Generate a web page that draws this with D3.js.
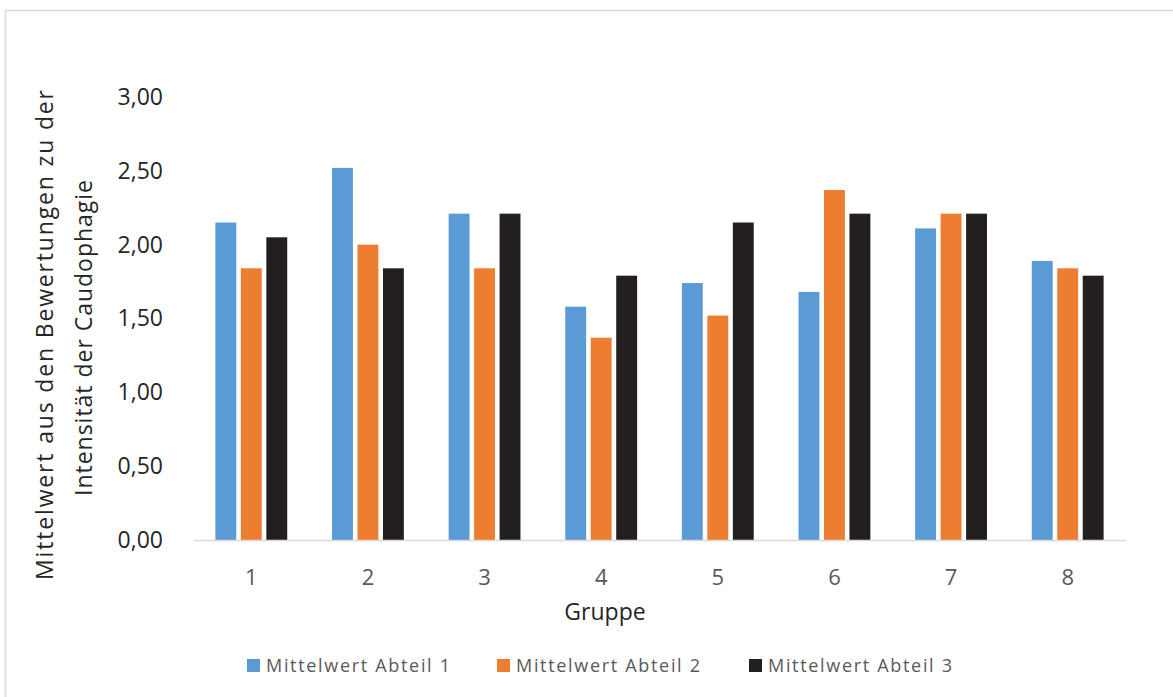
<!DOCTYPE html>
<html>
<head>
    <meta charset="utf-8">
    <title>Caudophagie</title>
    <script src="https://cdn.jsdelivr.net/npm/d3@7"></script>
    <style>
        body { margin: 0; background: #fff; }
        text { font-family: "Open Sans", Lato, sans-serif; }
    </style>
</head>
<body>
<script>
    // data
    var groups = ["1", "2", "3", "4", "5", "6", "7", "8"];
    var seriesNames = ["Mittelwert Abteil 1", "Mittelwert Abteil 2", "Mittelwert Abteil 3"];
    var abteil1 = [2.15, 2.52, 2.21, 1.58, 1.74, 1.68, 2.11, 1.89];
    var abteil2 = [1.84, 2.00, 1.84, 1.37, 1.52, 2.37, 2.21, 1.84];
    var abteil3 = [2.05, 1.84, 2.21, 1.79, 2.15, 2.21, 2.21, 1.79];
    var yTicks = [0, 0.5, 1, 1.5, 2, 2.5, 3];
    var colors = ["#5b9bd5", "#ed7d31", "#231f20"];

    var allSeries = [abteil1, abteil2, abteil3];

    var width = 1173, height = 697;
    var margins = {top: 97, left: 193, right: 47, bottom: 157};

    var svg = d3.select("body").append("svg")
        .attr("width", width)
        .attr("height", height);

    // outer frame, runs off the right and bottom edge like in the reference
    svg.append("rect")
        .attr("x", 5.5).attr("y", 10.5)
        .attr("width", width + 20).attr("height", height + 20)
        .attr("fill", "none")
        .attr("stroke", "#d9d9d9")
        .attr("stroke-width", 1.5);

    // group scale: bars centred in equal cells
    var x = d3.scaleBand()
        .domain(groups)
        .range([margins.left, width - margins.right])
        .paddingInner(0.384)
        .paddingOuter(0.192);

    var xInner = d3.scaleBand()
        .domain(d3.range(seriesNames.length))
        .range([0, x.bandwidth()])
        .paddingInner(0.18)
        .paddingOuter(0);

    var y = d3.scaleLinear()
        .domain([0, 3])
        .range([height - margins.bottom, margins.top]);

    // bars
    var groupG = svg.selectAll("g.group")
        .data(groups)
        .enter().append("g")
        .attr("class", "group")
        .attr("transform", function (d) { return "translate(" + x(d) + ",0)"; });

    groupG.selectAll("rect")
        .data(function (d, i) {
            return allSeries.map(function (s, k) { return {k: k, v: s[i]}; });
        })
        .enter().append("rect")
        .attr("x", function (d) { return xInner(d.k); })
        .attr("y", function (d) { return y(d.v); })
        .attr("width", xInner.bandwidth())
        .attr("height", function (d) { return y(0) - y(d.v); })
        .attr("fill", function (d) { return colors[d.k]; });

    // x axis
    var xg = svg.append("g")
        .attr("transform", "translate(0," + y(0) + ")")
        .call(d3.axisBottom(x).tickSize(0).tickPadding(29));
    xg.select(".domain")
        .attr("stroke", "#d9d9d9")
        .attr("stroke-width", 1.5);
    xg.selectAll("text")
        .attr("font-size", 22)
        .attr("fill", "#595959")
        .style("font-family", "'Open Sans', Lato, sans-serif");

    // y axis, german decimal comma
    var yg = svg.append("g")
        .attr("transform", "translate(" + margins.left + ",0)")
        .call(d3.axisLeft(y)
            .tickValues(yTicks)
            .tickSize(0)
            .tickPadding(30)
            .tickFormat(function (d) { return d3.format(".2f")(d).replace(".", ","); }));
    yg.select(".domain").remove();
    yg.selectAll("text")
        .attr("font-size", 23)
        .attr("fill", "#262626")
        .style("font-family", "'Open Sans', Lato, sans-serif");

    // axis titles
    svg.append("text")
        .attr("x", 605)
        .attr("y", 620)
        .attr("text-anchor", "middle")
        .attr("font-size", 23)
        .attr("fill", "#262626")
        .text("Gruppe");

    var yTitle = svg.append("text")
        .attr("transform", "translate(0,335) rotate(-90)")
        .attr("text-anchor", "middle")
        .attr("font-size", 23)
        .attr("fill", "#262626");
    yTitle.append("tspan").attr("x", 0).attr("y", 53)
        .attr("textLength", 490).attr("lengthAdjust", "spacing")
        .text("Mittelwert  aus den Bewertungen  zu der");
    yTitle.append("tspan").attr("x", -3).attr("y", 92)
        .attr("textLength", 316).attr("lengthAdjust", "spacing")
        .text("Intensität der Caudophagie");

    // legend
    var legendX = [247, 497, 749];
    var legend = svg.selectAll("g.legend")
        .data(seriesNames)
        .enter().append("g")
        .attr("class", "legend")
        .attr("transform", function (d, i) { return "translate(" + legendX[i] + ",659)"; });
    legend.append("rect")
        .attr("width", 13).attr("height", 13)
        .attr("fill", function (d, i) { return colors[i]; });
    legend.append("text")
        .attr("x", 19).attr("y", 13)
        .attr("font-size", 18)
        .attr("fill", "#595959")
        .attr("textLength", 184).attr("lengthAdjust", "spacing")
        .text(function (d) { return d; });
</script>
</body>
</html>
